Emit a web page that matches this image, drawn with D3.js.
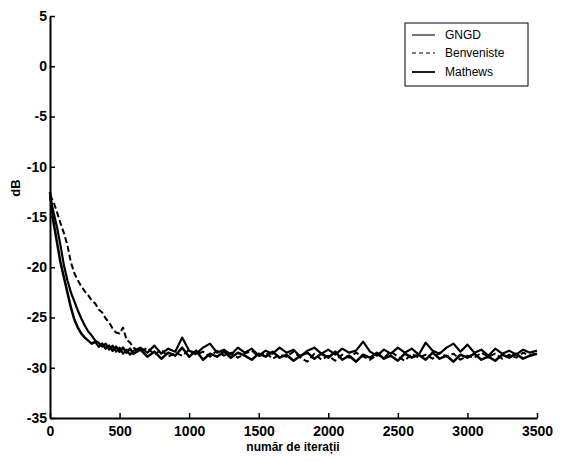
<!DOCTYPE html>
<html>
<head>
<meta charset="utf-8">
<script src="https://cdn.jsdelivr.net/npm/d3@7"></script>
<style>
  html, body { margin: 0; padding: 0; background: #fff; }
  svg { display: block; }
  .tick text { font-family: "Liberation Sans", Arial, sans-serif; font-weight: bold; font-size: 14px; fill: #000; }
</style>
</head>
<body>
<svg id="chart" width="562" height="463"></svg>
<script>
// ---- data ----
const iterations = [0,25,50,75,100,125,150,175,200,225,250,275,300,325,350,375,400,425,450,475,500,525,550,575,600,
  650,700,750,800,850,900,950,1000,1050,1100,1150,1200,1250,1300,1350,1400,1450,1500,1550,1600,1650,1700,1750,1800,1850,1900,1950,2000,
  2050,2100,2150,2200,2250,2300,2350,2400,2450,2500,2550,2600,2650,2700,2750,2800,2850,2900,2950,3000,3050,3100,3150,3200,3250,3300,3350,3400,3450,3500];

const gngd = [-13.0,-14.5,-16.0,-17.8,-19.8,-21.3,-22.5,-23.4,-24.3,-25.1,-25.8,-26.4,-26.8,-27.3,-27.5,-27.9,-27.6,-28.2,-27.8,-28.4,-28.0,-28.6,-28.2,-28.7,-28.3,
  -28.0,-28.5,-27.8,-28.6,-28.1,-28.4,-27.0,-28.3,-28.6,-28.0,-27.6,-28.5,-28.2,-28.7,-28.0,-28.5,-28.1,-28.8,-28.3,-28.6,-28.0,-28.5,-28.2,-28.9,-28.3,-28.0,-28.6,-28.2,
  -28.7,-28.1,-28.5,-28.3,-27.4,-28.4,-28.8,-28.2,-28.6,-28.0,-28.5,-28.1,-28.7,-27.5,-28.3,-28.6,-28.0,-27.6,-28.4,-27.7,-28.5,-28.2,-28.8,-28.1,-28.6,-28.3,-28.7,-28.2,-28.5,-28.3];

const benveniste = [-12.8,-13.5,-14.5,-15.6,-16.6,-17.8,-19.5,-20.6,-21.3,-21.9,-22.4,-22.8,-23.3,-23.6,-24.2,-24.5,-25.1,-25.5,-26.1,-26.5,-26.6,-26.0,-27.2,-27.5,-28.0,
  -28.4,-28.0,-28.7,-28.2,-28.9,-28.5,-28.8,-28.2,-28.7,-28.4,-28.9,-28.3,-28.8,-28.5,-29.0,-28.6,-28.3,-28.9,-28.5,-29.1,-28.7,-28.9,-28.4,-29.0,-29.4,-28.6,-29.2,-28.8,
  -29.3,-28.7,-29.0,-28.5,-28.9,-29.2,-28.7,-29.0,-28.4,-28.9,-29.3,-28.6,-29.0,-28.7,-29.1,-28.5,-28.9,-28.6,-29.2,-28.8,-29.0,-28.5,-28.9,-28.6,-29.1,-28.7,-29.0,-28.5,-28.8,-28.5];

const mathews = [-12.5,-15.5,-17.5,-19.5,-21.0,-22.5,-24.0,-25.2,-26.0,-26.6,-27.0,-27.3,-27.6,-27.4,-27.9,-27.6,-28.1,-27.8,-28.3,-27.9,-28.4,-28.0,-28.5,-28.1,-28.6,
  -28.2,-28.9,-28.4,-29.1,-28.5,-28.8,-28.0,-28.9,-28.3,-29.2,-28.6,-28.9,-28.4,-29.0,-28.5,-28.8,-29.2,-28.6,-28.9,-28.4,-29.0,-28.7,-29.3,-28.8,-28.5,-29.1,-28.6,-29.0,
  -28.4,-29.2,-28.8,-29.4,-28.7,-29.0,-28.5,-29.1,-28.8,-29.3,-28.6,-29.0,-28.7,-29.2,-28.5,-29.1,-28.8,-29.4,-28.7,-29.0,-28.6,-29.2,-28.9,-29.3,-28.7,-29.0,-28.6,-29.1,-28.8,-28.6];

const seriesNames = ["GNGD", "Benveniste", "Mathews"];
const xTickValues = [0,500,1000,1500,2000,2500,3000,3500];
const xTickLabels = ["0","500","1000","1500","2000","2500","3000","3500"];
const yTickValues = [5,0,-5,-10,-15,-20,-25,-30,-35];
const yTickLabels = ["5","0","-5","-10","-15","-20","-25","-30","-35"];
const xTitle = "număr de iterații";
const yTitle = "dB";

// ---- chart ----
const svg = d3.select("#chart");
svg.append("rect").attr("width", 562).attr("height", 463).attr("fill", "#fff");

const x = d3.scaleLinear().domain([0, 3500]).range([50, 537]);
const y = d3.scaleLinear().domain([-35, 5]).range([418, 16]);

const seriesData = [gngd, benveniste, mathews];
const styles = [
  {w: 2.2, dash: null},
  {w: 2.0, dash: "6,3"},
  {w: 2.5, dash: null}
];

const line = d3.line().x((d, i) => x(iterations[i])).y(d => y(d));

seriesData.forEach((vals, k) => {
  svg.append("path")
    .datum(vals)
    .attr("d", line)
    .attr("fill", "none")
    .attr("stroke", "#000")
    .attr("stroke-width", styles[k].w)
    .attr("stroke-linejoin", "round")
    .attr("stroke-dasharray", styles[k].dash);
});

const xAxis = d3.axisBottom(x).tickValues(xTickValues)
  .tickFormat((d, i) => xTickLabels[i]).tickSizeInner(-5).tickSizeOuter(0).tickPadding(8);
const yAxis = d3.axisLeft(y).tickValues(yTickValues)
  .tickFormat((d, i) => yTickLabels[i]).tickSizeInner(-5).tickSizeOuter(0).tickPadding(3);

const gx = svg.append("g").attr("transform", "translate(0,418)").call(xAxis);
const gy = svg.append("g").attr("transform", "translate(50,0)").call(yAxis);
[gx, gy].forEach(g => {
  g.select(".domain").attr("stroke", "#000").attr("stroke-width", 2);
  g.selectAll(".tick line").attr("stroke", "#000").attr("stroke-width", 1.5);
});

svg.append("text")
  .attr("x", 293).attr("y", 451)
  .attr("text-anchor", "middle")
  .attr("font-family", "Liberation Sans, Arial, sans-serif")
  .attr("font-weight", "bold").attr("font-size", 12)
  .text(xTitle);

svg.append("text")
  .attr("transform", "translate(20,188) rotate(-90)")
  .attr("text-anchor", "middle")
  .attr("font-family", "Liberation Sans, Arial, sans-serif")
  .attr("font-weight", "bold").attr("font-size", 13)
  .text(yTitle);

// ---- legend ----
const lg = svg.append("g");
lg.append("rect").attr("x", 405).attr("y", 23).attr("width", 123).attr("height", 63)
  .attr("fill", "#fff").attr("stroke", "#000").attr("stroke-width", 1);
const legY = [35, 53, 72];
seriesNames.forEach((name, k) => {
  lg.append("line").attr("x1", 412).attr("x2", 435).attr("y1", legY[k]).attr("y2", legY[k])
    .attr("stroke", "#000").attr("stroke-width", k === 2 ? 1.8 : 1.1)
    .attr("stroke-dasharray", styles[k].dash ? "4,3" : null);
  lg.append("text").attr("x", 445).attr("y", legY[k]).attr("dy", "0.35em")
    .attr("font-family", "Liberation Sans, Arial, sans-serif").attr("font-size", 12)
    .attr("fill", "#000").text(name);
});
</script>
</body>
</html>
